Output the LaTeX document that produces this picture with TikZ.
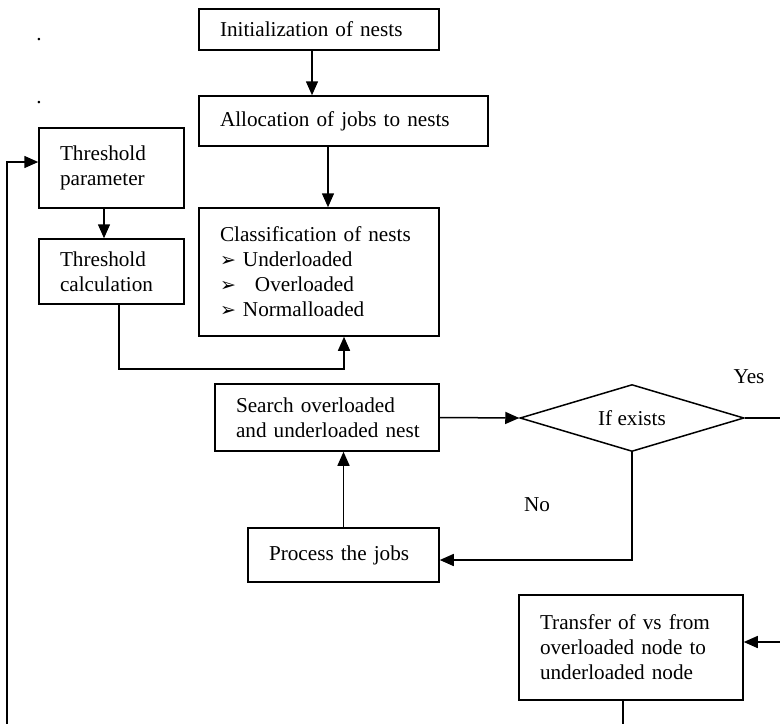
\documentclass[tikz,border=0pt]{standalone}
\usepackage{fontspec}
\setmainfont{Liberation Serif}
\newfontfamily\dingfont{DejaVu Sans}
\usetikzlibrary{shapes.geometric}
\usetikzlibrary{arrows.meta}

\newcommand\nestfont{\fontsize{10.6}{12.5}\selectfont}
\newcommand\pt{{\dingfont\fontsize{9.5}{9.5}\selectfont ➢}}

\tikzset{
	blk/.style = {draw, line width=0.75pt, align=left, inner xsep=10.5pt, inner ysep=0pt, font=\nestfont},
	decision/.style = {draw, diamond, line width=0.75pt, inner sep=0pt, aspect=3.3, font=\nestfont},
	lbl/.style = {font=\nestfont, inner sep=0pt}
}

\begin{document}
\begin{tikzpicture}[x=0.5pt, y=-0.5pt, line width=0.75pt, >={Triangle[length=7pt,width=6pt]}]

	\useasboundingbox (0,0) rectangle (780,723);
	\clip (0,0) rectangle (780,723);

	\node [blk, text width=99pt, minimum height=20.5pt] (init) at (319,29.5) {\mbox{Initialization of nests}};
	\node [blk, text width=123.5pt, minimum height=25pt] (alloc) at (343.5,121) {\mbox{Allocation of jobs to nests}};
	\node [blk, text width=99pt, minimum height=64pt] (class) at (319,272)
		{\mbox{Classification of nests}\\ \pt\ Underloaded\\ \pt\hspace{6pt} Overloaded\\ \pt\ Normalloaded};
	\node [blk, text width=51.5pt, minimum height=40pt] (thpar) at (111.5,168) {Threshold\\ parameter};
	\node [blk, text width=51.5pt, minimum height=32.5pt] (thcalc) at (111.5,271.5) {Threshold\\ calculation};
	\node [blk, text width=91pt, minimum height=33.5pt] (search) at (327,417.5) {\mbox{Search overloaded}\\ \mbox{and underloaded nest}};
	\node [decision, minimum width=112pt, minimum height=33.5pt] (exists) at (632,418) {If exists\hspace{12pt}};
	\node [blk, text width=74.5pt, minimum height=27pt] (process) at (343.5,555) {Process the jobs};
	\node [blk, text width=91pt, minimum height=52.5pt] (transfer) at (631,647.5)
		{\mbox{Transfer of vs from}\\ \mbox{overloaded node to}\\ \mbox{underloaded node}};

	\node [lbl] (yes) at (749,377) {Yes};
	\node [lbl] (no) at (537,505) {No};
	\node [lbl] (dot1) at (39,40) {.};
	\node [lbl] (dot2) at (39,103) {.};

	\coordinate (loop) at (7,760);

	\draw [->] ([xshift=-3.5pt]init.south) -- ([xshift=-3.5pt]init.south |- alloc.north);
	\draw [->] ([xshift=-7.75pt]alloc.south) -- ([xshift=-7.75pt]alloc.south |- class.north);
	\draw [->] ([xshift=-3.75pt]thpar.south) -- ([xshift=-3.75pt]thpar.south |- thcalc.north);
	\draw [->] ([xshift=3.75pt]thcalc.south) -- ++(0,64) -| ([xshift=12.5pt]class.south);
	\draw [->] (process.north) -- (process.north |- search.south);
	\draw [->] (search.east) -- (exists.west);
	\draw [->] (exists.south) |- ([yshift=-2.5pt]process.east);
	\draw [->] (exists.east) -- ++(60,0) |- ([yshift=2.75pt]transfer.east);
	\draw [->] ([xshift=-4pt]transfer.south) |- (loop) |- ([yshift=3pt]thpar.west);

\end{tikzpicture}
\end{document}
